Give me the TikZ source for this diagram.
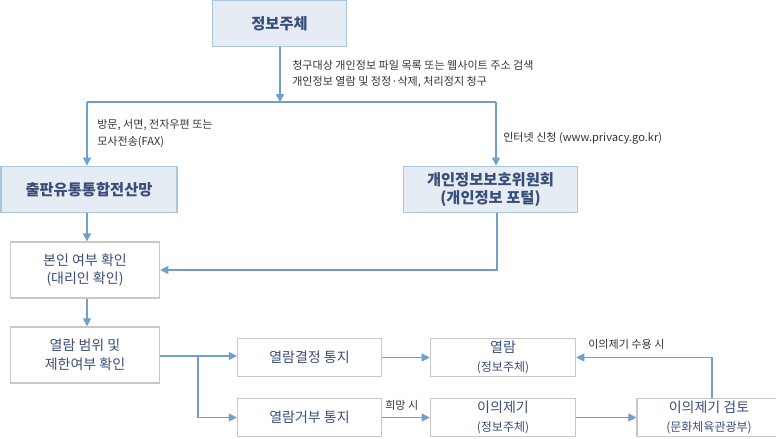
\documentclass[tikz,border=0pt]{standalone}
\usepackage{fontspec}
\setmainfont{Noto Sans CJK KR}
\usetikzlibrary{arrows.meta}
\definecolor{bfill}{HTML}{E6ECF4}
\definecolor{bdraw}{HTML}{A9C6E0}
\definecolor{gdraw}{HTML}{C8C8C8}
\definecolor{ln}{HTML}{6FA0CB}
\definecolor{tx}{HTML}{3A4E7A}
\definecolor{lb}{HTML}{333333}
\begin{document}
\begin{tikzpicture}[x=0.75pt,y=-0.75pt,
  bluebox/.style={draw=bdraw,fill=bfill,line width=0.9pt,text=tx,font=\fontsize{11.5}{13.5}\selectfont\bfseries,align=center,inner sep=0pt},
  graybox/.style={draw=gdraw,fill=white,line width=0.9pt,text=tx,font=\fontsize{10.5}{14}\selectfont,align=center,inner sep=0pt},
  conn/.style={draw=ln,line width=0.8pt},
  arr/.style={conn,-{Triangle[width=6pt,length=6pt]}},
  lbl/.style={text=lb,font=\fontsize{8.3}{12.5}\selectfont,align=left,anchor=west,inner sep=0pt}]
\useasboundingbox (0,0) rectangle (776,439);
\node[bluebox,minimum width=101pt,minimum height=35pt] (a) at (279.5,23.5) {정보주체};
\node[bluebox,minimum width=132pt,minimum height=35pt] (b) at (89,189.5) {출판유통통합전산망};
\node[bluebox,minimum width=131pt,minimum height=35pt] (c) at (490.5,189.5) {개인정보보호위원회\\(개인정보 포털)};
\node[graybox,minimum width=112pt,minimum height=42pt] (d) at (85,270) {본인 여부 확인\\(대리인 확인)};
\node[graybox,minimum width=112pt,minimum height=42pt] (e) at (85,355) {열람 범위 및\\제한여부 확인};
\node[graybox,minimum width=108pt,minimum height=29pt] (f) at (309.5,357.5) {열람결정 통지};
\node[graybox,minimum width=108pt,minimum height=29pt] (g) at (309.5,417.5) {열람거부 통지};
\node[graybox,minimum width=109pt,minimum height=29pt] (h) at (503,357.5) {열람\\{\fontsize{9}{11.5}\selectfont(정보주체)}};
\node[graybox,minimum width=109pt,minimum height=29pt] (i) at (503,417.5) {이의제기\\{\fontsize{9}{11.5}\selectfont(정보주체)}};
\node[graybox,minimum width=108pt,minimum height=29pt] (j) at (709,417.5) {이의제기 검토\\{\fontsize{9}{11.5}\selectfont(문화체육관광부)}};
\coordinate (m) at (280,102);
\coordinate (ml) at (87,102);
\coordinate (mr) at (496,102);
\draw[arr] (a.south -| m) -- (m);
\draw[conn] (ml) -- (mr);
\draw[arr] (ml) -- (b.north -| ml);
\draw[arr] (mr) -- (c.north -| mr);
\draw[arr] (b.south -| ml) -- (d.north -| ml);
\coordinate (cr) at (497,270);
\draw[arr] (c.south -| cr) -- (cr) -- (d.east);
\draw[arr] (d.south -| ml) -- (e.north -| ml);
\coordinate (br) at (198,356);
\draw[arr] (e.east |- br) -- (f.west |- br);
\draw[arr] (br) |- (g.west);
\draw[arr] (f.east) -- (h.west);
\draw[arr] (g.east) -- (i.west);
\draw[arr] (i.east) -- (j.west);
\draw[arr] (j.north -| 712,0) |- (h.east);
\node[lbl] (l1) at (292,74) {청구대상 개인정보 파일 목록 또는 웹사이트 주소 검색\\개인정보 열람 및 정정·삭제, 처리정지 청구};
\node[lbl] (l2) at (97,133.5) {방문, 서면, 전자우편 또는\\모사전송(FAX)};
\node[lbl] (l3) at (503,138) {인터넷 신청 (www.privacy.go.kr)};
\node[lbl] (l4) at (385,405) {희망 시};
\node[lbl] (l5) at (588,344) {이의제기 수용 시};
\end{tikzpicture}
\end{document}
